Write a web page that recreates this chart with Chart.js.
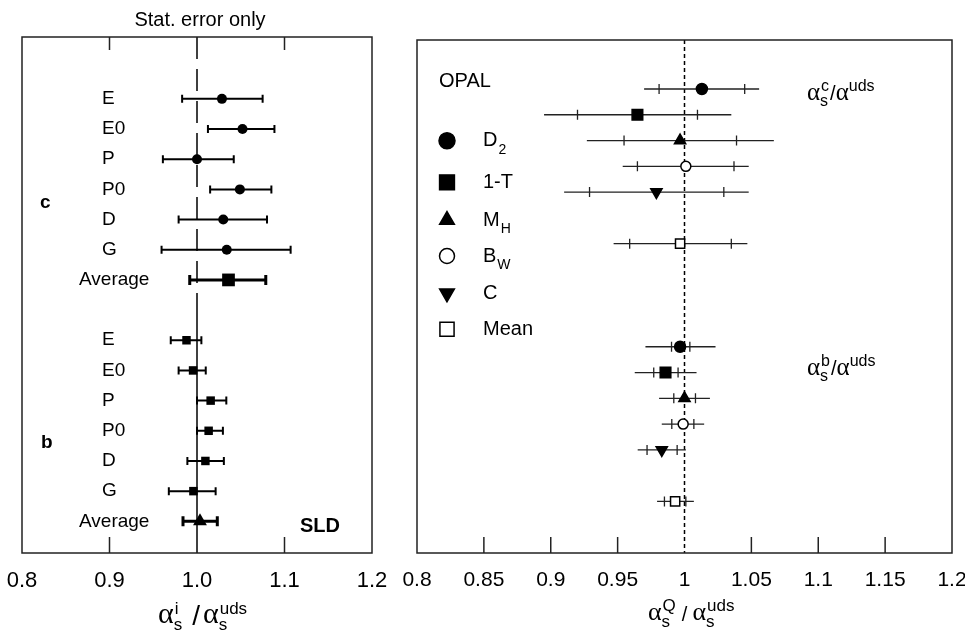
<!DOCTYPE html>
<html>
<head>
<meta charset="utf-8">
<script src="https://cdn.jsdelivr.net/npm/chart.js"></script>
<style>
  html, body { margin: 0; padding: 0; background: #fff; overflow: hidden; }
  #wrap { position: relative; width: 965px; height: 632px; overflow: hidden; }
  canvas { position: absolute; top: 0; }
</style>
</head>
<body>
<div id="wrap">
  <canvas id="sld" width="395" height="632" style="left:0"></canvas>
  <canvas id="opal" width="600" height="632" style="left:395px"></canvas>
</div>
<script>
// ---- SLD panel (left) ----
const rowLabels = ["E", "E0", "P", "P0", "D", "G", "Average"];
const cCentral = [1.0285, 1.052, 1.000, 1.049, 1.030, 1.034, 1.036];
const cLow     = [0.983, 1.0125, 0.961, 1.015, 0.979, 0.9595, 0.9917];
const cHigh    = [1.075, 1.0885, 1.042, 1.085, 1.080, 1.107, 1.0786];
const bCentral = [0.988, 0.9955, 1.0156, 1.0133, 1.0096, 0.9959, 1.0034];
const bLow     = [0.970, 0.979, 1.000, 1.000, 0.989, 0.9678, 0.984];
const bHigh    = [1.005, 1.010, 1.0335, 1.0296, 1.0307, 1.0213, 1.0232];
const leftTicks = [0.8, 0.9, 1.0, 1.1, 1.2];

// ---- OPAL panel (right) ----
const methods   = ["D", "1-T", "M", "B", "C", "Mean"];
const methodSub = ["2", "", "H", "W", "", ""];
const cMean   = [1.013, 0.9648, 0.9967, 1.001, 0.979, 0.9967];
const cStatLo = [0.981, 0.920, 0.9548, 0.9648, 0.929, 0.959];
const cStatHi = [1.045, 1.0097, 1.0389, 1.037, 1.0294, 1.035];
const cTotLo  = [0.9698, 0.895, 0.927, 0.9538, 0.910, 0.947];
const cTotHi  = [1.0558, 1.035, 1.0668, 1.048, 1.048, 1.047];
const bMean   = [0.9967, 0.9858, 1.000, 0.999, 0.983, 0.993];
const bStatLo = [0.9903, 0.977, 0.992, 0.9905, 0.972, 0.985];
const bStatHi = [1.004, 0.9952, 1.0082, 1.007, 0.9945, 1.001];
const bTotLo  = [0.9708, 0.9628, 0.981, 0.983, 0.965, 0.9795];
const bTotHi  = [1.0232, 1.009, 1.019, 1.0147, 1.001, 1.007];
const rightTicks = [0.8, 0.85, 0.9, 0.95, 1.0, 1.05, 1.1, 1.15, 1.2];

const cRows = [1, 2, 3, 4, 5, 7];
const bRows = [11, 12, 13, 14, 15, 17];

const SANS = '"Liberation Sans", Arial, sans-serif';
const SERIF = '"Liberation Serif", "Times New Roman", serif';

// marker looks for the OPAL methods
const mStyle = ["circle", "rect", "triangle", "circle", "triangle", "rect"];
const mRot   = [0, 0, 0, 0, 180, 0];
const mFill  = ["#000", "#000", "#000", "#fff", "#000", "#fff"];
const mRad   = [5.5, 7.5, 6.5, 5, 6.5, 6.5];

function alphaTerm(ctx, x, y, sup, sub, a, s) {
  ctx.font = a + "px " + SERIF;
  ctx.fillText("\u03b1", x, y);
  x += ctx.measureText("\u03b1").width;
  ctx.font = s + "px " + SANS;
  let w = 0;
  if (sub) { ctx.fillText(sub, x, y + s * 0.4); w = ctx.measureText(sub).width; }
  if (sup) { ctx.fillText(sup, x + (sub ? 1 : 0), y - s * 0.55); w = Math.max(w, ctx.measureText(sup).width); }
  return x + w;
}

function drawMarker(ctx, style, rot, r, fill, x, y) {
  ctx.save();
  ctx.fillStyle = fill;
  ctx.strokeStyle = "#000";
  ctx.lineWidth = 1.5;
  Chart.helpers.drawPoint(ctx, { pointStyle: style, rotation: rot, radius: r, borderWidth: 1.5 }, x, y);
  ctx.restore();
}

// keep the plot box where the reference has it
function fixAxis(s) {
  s.paddingLeft = 0;
  s.paddingRight = 0;
  s.height = 40;
}

// ---------- left chart ----------
const sldPlugin = {
  id: "sld",
  beforeDatasetsDraw(chart) {
    const { ctx, chartArea: a } = chart;
    const xs = chart.scales.x, ys = chart.scales.y;
    const x1 = xs.getPixelForValue(1.0);
    ctx.save();
    ctx.strokeStyle = "#000";
    ctx.lineWidth = 1.5;
    ctx.setLineDash([22, 10]);
    ctx.beginPath();
    ctx.moveTo(x1, a.top);
    ctx.lineTo(x1, ys.getPixelForValue(8));
    ctx.stroke();
    ctx.setLineDash([]);
    ctx.beginPath();
    ctx.moveTo(x1, ys.getPixelForValue(8));
    ctx.lineTo(x1, a.bottom);
    ctx.stroke();

    const bars = (lo, hi, off) => {
      lo.forEach((v, i) => {
        const y = ys.getPixelForValue(i + off);
        const avg = i === lo.length - 1;
        const l = xs.getPixelForValue(v), h = xs.getPixelForValue(hi[i]);
        const cap = avg ? 5 : 4;
        ctx.lineWidth = avg ? 3 : 2;
        ctx.beginPath();
        ctx.moveTo(l, y); ctx.lineTo(h, y);
        ctx.moveTo(l, y - cap); ctx.lineTo(l, y + cap);
        ctx.moveTo(h, y - cap); ctx.lineTo(h, y + cap);
        ctx.stroke();
      });
    };
    bars(cLow, cHigh, 1);
    bars(bLow, bHigh, 9);
    ctx.restore();
  },
  afterDraw(chart) {
    const { ctx, chartArea: a } = chart;
    const xs = chart.scales.x, ys = chart.scales.y;
    ctx.save();
    ctx.strokeStyle = "#222";
    ctx.lineWidth = 1.5;
    ctx.strokeRect(a.left, a.top, a.right - a.left, a.bottom - a.top);
    [0.9, 1.1].forEach(v => {
      const x = xs.getPixelForValue(v);
      ctx.beginPath();
      ctx.moveTo(x, a.top); ctx.lineTo(x, a.top + 13);
      ctx.moveTo(x, a.bottom); ctx.lineTo(x, a.bottom - 16);
      ctx.stroke();
    });

    ctx.fillStyle = "#000";
    ctx.textBaseline = "middle";
    ctx.textAlign = "left";
    ctx.font = "19px " + SANS;
    [1, 9].forEach(off => {
      rowLabels.forEach((t, i) => {
        ctx.fillText(t, t === "Average" ? 79 : 102, ys.getPixelForValue(i + off));
      });
    });
    ctx.font = "bold 19px " + SANS;
    ctx.textBaseline = "alphabetic";
    ctx.fillText("c", 40, 208);
    ctx.fillText("b", 41, 448);
    ctx.font = "bold 20px " + SANS;
    ctx.fillText("SLD", 300, 532);

    ctx.textAlign = "center";
    ctx.font = "20px " + SANS;
    ctx.fillText("Stat. error only", 200, 26);

    ctx.textAlign = "left";
    let x = alphaTerm(ctx, 158, 623, "i", "s", 30, 17);
    ctx.font = "28px " + SANS;
    ctx.fillText("/", x + 10, 625);
    x += 10 + ctx.measureText("/").width + 3;
    alphaTerm(ctx, x, 623, "uds", "s", 30, 17);
    ctx.restore();
  }
};

new Chart(document.getElementById("sld"), {
  type: "scatter",
  data: {
    datasets: [
      { data: cCentral.slice(0, 6).map((v, i) => ({ x: v, y: i + 1 })), pointStyle: "circle", pointRadius: 5 },
      { data: [{ x: cCentral[6], y: 7 }], pointStyle: "rect", pointRadius: 9 },
      { data: bCentral.slice(0, 6).map((v, i) => ({ x: v, y: i + 9 })), pointStyle: "rect", pointRadius: 6 },
      { data: [{ x: bCentral[6], y: 15 }], pointStyle: "triangle", pointRadius: 8 }
    ].map(d => Object.assign(d, { backgroundColor: "#000", borderColor: "#000", borderWidth: 0 }))
  },
  plugins: [sldPlugin],
  options: {
    responsive: false,
    animation: false,
    layout: { padding: { left: 22, right: 23, top: 37, bottom: 39 } },
    plugins: { legend: { display: false }, tooltip: { enabled: false } },
    scales: {
      x: {
        type: "linear", min: 0.8, max: 1.2,
        afterBuildTicks: s => { s.ticks = leftTicks.map(v => ({ value: v })); },
        afterFit: fixAxis,
        grid: { display: false }, border: { display: false },
        ticks: { color: "#000", font: { family: SANS, size: 22 }, padding: 7, maxRotation: 0,
                 callback: v => v.toFixed(1) }
      },
      y: { type: "linear", min: -1.05, max: 16.05, reverse: true, display: false }
    }
  }
});

// ---------- right chart ----------
const opalPlugin = {
  id: "opal",
  beforeDatasetsDraw(chart) {
    const { ctx, chartArea: a } = chart;
    const xs = chart.scales.x, ys = chart.scales.y;
    const x1 = xs.getPixelForValue(1.0);
    ctx.save();
    ctx.strokeStyle = "#000";
    ctx.lineWidth = 1.5;
    ctx.setLineDash([4, 3]);
    ctx.beginPath();
    ctx.moveTo(x1, a.top); ctx.lineTo(x1, a.bottom);
    ctx.stroke();
    ctx.setLineDash([]);
    ctx.strokeStyle = "#222";
    ctx.lineWidth = 1.3;
    const bars = (rows, tlo, thi, slo, shi) => {
      rows.forEach((r, i) => {
        const y = ys.getPixelForValue(r);
        ctx.beginPath();
        ctx.moveTo(xs.getPixelForValue(tlo[i]), y);
        ctx.lineTo(xs.getPixelForValue(thi[i]), y);
        [slo[i], shi[i]].forEach(v => {
          const x = xs.getPixelForValue(v);
          ctx.moveTo(x, y - 5); ctx.lineTo(x, y + 5);
        });
        ctx.stroke();
      });
    };
    bars(cRows, cTotLo, cTotHi, cStatLo, cStatHi);
    bars(bRows, bTotLo, bTotHi, bStatLo, bStatHi);
    ctx.restore();
  },
  afterDraw(chart) {
    const { ctx, chartArea: a } = chart;
    const xs = chart.scales.x;
    ctx.save();
    ctx.strokeStyle = "#222";
    ctx.lineWidth = 1.5;
    ctx.strokeRect(a.left, a.top, a.right - a.left, a.bottom - a.top);
    rightTicks.slice(1, -1).forEach(v => {
      if (v === 1.0) return;
      const x = xs.getPixelForValue(v);
      ctx.beginPath();
      ctx.moveTo(x, a.bottom); ctx.lineTo(x, a.bottom - 16);
      ctx.stroke();
    });

    ctx.fillStyle = "#000";
    ctx.textAlign = "left";
    ctx.textBaseline = "middle";
    ctx.font = "20px " + SANS;
    ctx.fillText("OPAL", 44, 81);

    const legY = [140.7, 182.3, 220, 256, 293.3, 329.3];
    const legR = [8, 10.5, 8.5, 7.5, 8.5, 10];
    methods.forEach((m, i) => {
      drawMarker(ctx, mStyle[i], mRot[i], legR[i], mFill[i], 52, legY[i]);
      ctx.fillStyle = "#000";
      ctx.textBaseline = "middle";
      ctx.font = "20px " + SANS;
      ctx.fillText(m, 88, legY[i]);
      if (methodSub[i]) {
        const w = ctx.measureText(m).width;
        ctx.font = "14px " + SANS;
        ctx.fillText(methodSub[i], 88 + w + 1, legY[i] + 9);
      }
    });

    ctx.textBaseline = "alphabetic";
    // ratio annotations
    [["c", 100], ["b", 375]].forEach(([q, yb]) => {
      let x = alphaTerm(ctx, 412, yb, q, "s", 25, 16);
      ctx.font = "20px " + SANS;
      ctx.fillText("/", x + 2, yb);
      x += 2 + ctx.measureText("/").width;
      alphaTerm(ctx, x, yb, "uds", "", 25, 16);
    });

    // axis title
    let x = alphaTerm(ctx, 253, 620, "Q", "s", 26, 17);
    ctx.font = "20px " + SANS;
    ctx.fillText("/", x + 7, 621);
    x += 7 + ctx.measureText("/").width + 5;
    alphaTerm(ctx, x, 620, "uds", "s", 26, 17);
    ctx.restore();
  }
};

const pointSet = (vals, rows) => ({
  data: vals.map((v, i) => ({ x: v, y: rows[i] })),
  pointStyle: mStyle, pointRotation: mRot, pointRadius: mRad,
  backgroundColor: mFill, borderColor: "#000", borderWidth: 1.5
});

new Chart(document.getElementById("opal"), {
  type: "scatter",
  data: { datasets: [pointSet(cMean, cRows), pointSet(bMean, bRows)] },
  plugins: [opalPlugin],
  options: {
    responsive: false,
    animation: false,
    layout: { padding: { left: 22, right: 43, top: 40, bottom: 39 } },
    plugins: { legend: { display: false }, tooltip: { enabled: false } },
    scales: {
      x: {
        type: "linear", min: 0.8, max: 1.2,
        afterBuildTicks: s => { s.ticks = rightTicks.map(v => ({ value: v })); },
        afterFit: fixAxis,
        grid: { display: false }, border: { display: false },
        ticks: { color: "#000", font: { family: SANS, size: 21 }, padding: 7, maxRotation: 0,
                 callback: v => String(Math.round(v * 100) / 100) }
      },
      y: { type: "linear", min: -0.9, max: 19, reverse: true, display: false }
    }
  }
});
</script>
</body>
</html>
